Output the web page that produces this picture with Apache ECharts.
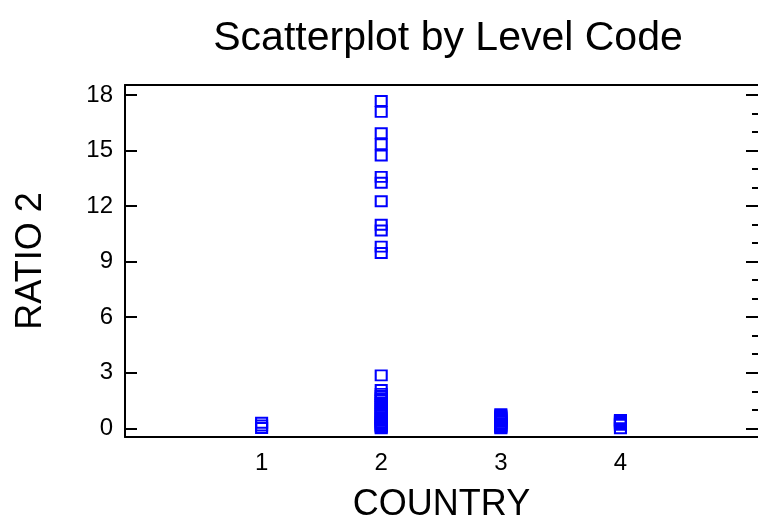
<!DOCTYPE html>
<html>
<head>
<meta charset="utf-8">
<script src="https://cdn.jsdelivr.net/npm/echarts@6/dist/echarts.min.js"></script>
<style>
  html, body { margin: 0; padding: 0; background: #ffffff; }
  #chart { width: 758px; height: 529px; }
</style>
</head>
<body>
<div id="chart"></div>
<script>
// Level codes (COUNTRY) and observed RATIO 2 values per level
const countryLevels = [1, 2, 3, 4];
const ratioCountry1 = [0.30, 0.15, 0.02];
const ratioCountry2 = [
  17.68, 17.09, 15.93, 15.34, 14.73, 13.58, 13.26, 12.26, 10.99, 10.68, 9.81, 9.47,
  2.86,
  2.07, 1.86, 1.74, 1.62, 1.50, 1.38, 1.26, 1.14, 1.02, 0.91, 0.80, 0.70, 0.60,
  0.50, 0.41, 0.33, 0.25, 0.18, 0.12, 0.06, 0.0
];
const ratioCountry3 = [0.76, 0.70, 0.63, 0.56, 0.49, 0.42, 0.35, 0.28, 0.21, 0.15, 0.09, 0.04, 0.0];
const ratioCountry4 = [0.45, 0.39, 0.32, 0.25, 0.19, 0.0];

const yMajorTicks = [0, 3, 6, 9, 12, 15, 18];
const yMinorTicks = [1, 2, 4, 5, 7, 8, 10, 11, 13, 14, 16, 17];

const groups = [ratioCountry1, ratioCountry2, ratioCountry3, ratioCountry4];
const points = [];
groups.forEach((vals, i) => {
  vals.forEach(v => points.push([countryLevels[i], v]));
});

const X_MIN = -0.142, X_MAX = 5.15;
const Y_MIN = -0.47, Y_MAX = 18.54;
const FONT = 'Liberation Sans, Arial, sans-serif';

const chart = echarts.init(document.getElementById('chart'), null, { renderer: 'canvas' });

const hiddenY = (extra) => Object.assign({
  type: 'value', min: Y_MIN, max: Y_MAX,
  axisLabel: { show: false }, splitLine: { show: false },
  axisLine: { show: false, onZero: false }
}, extra);

chart.setOption({
  animation: false,
  backgroundColor: '#ffffff',
  title: {
    text: 'Scatterplot by Level Code',
    left: 443, top: 13, textAlign: 'center',
    textStyle: { fontFamily: FONT, fontSize: 41, fontWeight: 'normal', color: '#000' }
  },
  grid: { left: 125, top: 85, width: 635, height: 352 },
  xAxis: [
    {
      type: 'value', min: X_MIN, max: X_MAX,
      name: 'COUNTRY', nameLocation: 'middle', nameGap: 50,
      nameTextStyle: { fontFamily: FONT, fontSize: 36, color: '#000' },
      axisLine: { show: true, onZero: false, lineStyle: { color: '#000', width: 2 } },
      axisTick: { show: false },
      splitLine: { show: false },
      axisLabel: {
        customValues: countryLevels, margin: 14,
        fontFamily: FONT, fontSize: 24, color: '#000'
      }
    },
    {
      type: 'value', min: X_MIN, max: X_MAX, position: 'top',
      axisLine: { show: true, onZero: false, lineStyle: { color: '#000', width: 2 } },
      axisTick: { show: false }, axisLabel: { show: false }, splitLine: { show: false }
    }
  ],
  yAxis: [
    {
      type: 'value', min: Y_MIN, max: Y_MAX,
      name: 'RATIO 2', nameLocation: 'middle', nameGap: 76, nameRotate: 90,
      nameTextStyle: { fontFamily: FONT, fontSize: 36, color: '#000' },
      axisLine: { show: true, onZero: false, lineStyle: { color: '#000', width: 2 } },
      axisTick: {
        show: true, inside: true, length: 12, customValues: yMajorTicks,
        lineStyle: { color: '#000', width: 2 }
      },
      splitLine: { show: false },
      axisLabel: {
        customValues: yMajorTicks, margin: 12,
        fontFamily: FONT, fontSize: 24, color: '#000'
      }
    },
    hiddenY({
      axisTick: {
        show: true, inside: true, length: 6, customValues: yMinorTicks,
        lineStyle: { color: '#000', width: 2 }
      }
    }),
    hiddenY({
      position: 'right',
      axisTick: {
        show: true, inside: true, length: 12, customValues: yMajorTicks,
        lineStyle: { color: '#000', width: 2 }
      }
    }),
    hiddenY({
      position: 'right',
      axisTick: {
        show: true, inside: true, length: 5, customValues: yMinorTicks,
        lineStyle: { color: '#000', width: 2 }
      }
    })
  ],
  series: [{
    type: 'scatter',
    xAxisIndex: 0, yAxisIndex: 0,
    data: points,
    symbol: 'rect',
    symbolSize: [11, 10],
    itemStyle: { color: 'rgba(0,0,0,0)', borderColor: '#0000ff', borderWidth: 2, opacity: 1 },
    emphasis: { disabled: true }
  }]
});
</script>
</body>
</html>
